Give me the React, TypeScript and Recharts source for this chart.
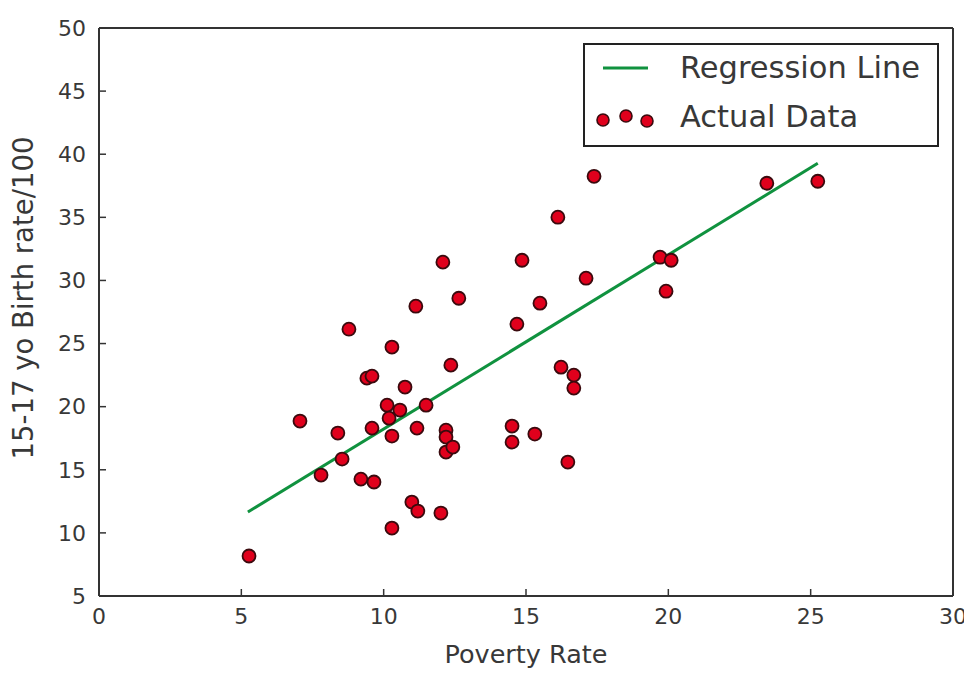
import React from "react";
import {
  ScatterChart,
  Scatter,
  XAxis,
  YAxis,
  Legend,
} from "recharts";

// values
const povertyRate = [
  5.27, 7.06, 7.8, 8.39, 8.54, 8.78, 9.2, 9.41, 9.59, 9.59, 9.66, 10.12, 10.19,
  10.29, 10.29, 10.29, 10.57, 10.75, 10.99, 11.13, 11.17, 11.2, 11.49, 12.01,
  12.08, 12.19, 12.19, 12.19, 12.36, 12.43, 12.64, 14.51, 14.51, 14.68, 14.86,
  15.31, 15.49, 16.12, 16.23, 16.47, 16.68, 16.68, 17.11, 17.39, 19.71, 19.92,
  20.1, 23.46, 25.25,
];
const birthRate = [
  8.17, 18.86, 14.58, 17.91, 15.85, 26.14, 14.26, 22.26, 22.42, 18.3, 14.03,
  20.12, 19.09, 24.72, 17.67, 10.38, 19.73, 21.55, 12.44, 27.96, 18.3, 11.73,
  20.12, 11.57, 31.45, 18.14, 17.59, 16.4, 23.29, 16.8, 28.59, 18.46, 17.19,
  26.54, 31.6, 17.83, 28.2, 35.01, 23.13, 15.61, 22.5, 21.47, 30.18, 38.25,
  31.84, 29.15, 31.6, 37.7, 37.86,
];

// regression line end points
const regX = [5.23, 25.25];
const regY = [11.65, 39.28];

const xTicks = [0, 5, 10, 15, 20, 25, 30];
const yTicks = [5, 10, 15, 20, 25, 30, 35, 40, 45, 50];

const points = povertyRate.map((x, i) => ({ x, y: birthRate[i] }));
const regression = regX.map((x, i) => ({ x, y: regY[i] }));

const FONT = "'DejaVu Sans', sans-serif";
const TEXT = "#383838";
const RED = "#e0001c";
const RED_EDGE = "#3a0a0e";
const GREEN = "#10923f";

const Dot = (props: any) => (
  <circle
    cx={props.cx}
    cy={props.cy}
    r={6.5}
    fill={RED}
    stroke={RED_EDGE}
    strokeWidth={1.8}
  />
);

// rotated y axis title, placed a bit above the plot centre like the reference
const YTitle = () => (
  <text
    x={15}
    y={290}
    transform="rotate(-90, 15, 290)"
    textAnchor="middle"
    dominantBaseline="central"
    fontSize={27.5}
    fill={TEXT}
    fontFamily={FONT}
  >
    15-17 yo Birth rate/100
  </text>
);

// matplotlib style legend box
const LegendBox = () => (
  <div
    style={{
      width: 356,
      height: 104,
      boxSizing: "border-box",
      border: "2px solid #222",
      background: "#fff",
      position: "relative",
      fontFamily: FONT,
      fontSize: 30.5,
      color: TEXT,
    }}
  >
    <svg width={90} height={100} style={{ position: "absolute", left: -2, top: -2 }}>
      <line x1={20} y1={25} x2={65} y2={25} stroke={GREEN} strokeWidth={3} />
      <circle cx={20} cy={77} r={6} fill={RED} stroke={RED_EDGE} strokeWidth={1.6} />
      <circle cx={43} cy={73} r={6} fill={RED} stroke={RED_EDGE} strokeWidth={1.6} />
      <circle cx={64} cy={78} r={6} fill={RED} stroke={RED_EDGE} strokeWidth={1.6} />
    </svg>
    <div style={{ position: "absolute", left: 95, top: 5, lineHeight: "36px" }}>
      Regression Line
    </div>
    <div style={{ position: "absolute", left: 95, top: 54, lineHeight: "36px" }}>
      Actual Data
    </div>
  </div>
);

const axisLine = { stroke: "#333", strokeWidth: 2 };
const tickLine = { stroke: "#333", strokeWidth: 1.5 };
const tickFont = { fontSize: 22, fill: TEXT, fontFamily: FONT };

export default function App() {
  return (
    <ScatterChart
      width={964}
      height={665}
      margin={{ top: 15, right: 14, bottom: 7, left: 0 }}
      style={{ background: "#fff" }}
    >
      {/* inward ticks on all four sides, like the classic matplotlib frame */}
      <XAxis
        type="number"
        dataKey="x"
        domain={[0, 30]}
        ticks={xTicks}
        height={70}
        axisLine={axisLine}
        tickLine={tickLine}
        tickSize={-7}
        tickMargin={19}
        tick={tickFont}
        label={{
          value: "Poverty Rate",
          position: "insideBottom",
          offset: 3,
          style: { fontSize: 25.5, fill: TEXT, fontFamily: FONT },
        }}
      />
      <XAxis
        xAxisId="top"
        orientation="top"
        type="number"
        domain={[0, 30]}
        ticks={xTicks}
        height={5}
        axisLine={axisLine}
        tickLine={tickLine}
        tickSize={-7}
        tick={false}
      />
      <YAxis
        type="number"
        dataKey="y"
        domain={[5, 50]}
        ticks={yTicks}
        width={91}
        axisLine={axisLine}
        tickLine={tickLine}
        tickSize={-7}
        tickMargin={20}
        tick={tickFont}
        label={<YTitle />}
      />
      <YAxis
        yAxisId="right"
        orientation="right"
        type="number"
        domain={[5, 50]}
        ticks={yTicks}
        width={5}
        axisLine={axisLine}
        tickLine={tickLine}
        tickSize={-7}
        tick={false}
      />
      <Legend
        layout="vertical"
        align="center"
        verticalAlign="middle"
        content={<LegendBox />}
        wrapperStyle={{ position: "absolute", left: 575, top: 35, width: 356 }}
      />
      <Scatter
        name="Regression Line"
        data={regression}
        line={{ stroke: GREEN, strokeWidth: 3 }}
        lineType="joint"
        shape={() => <g />}
        isAnimationActive={false}
      />
      <Scatter
        name="Actual Data"
        data={points}
        shape={<Dot />}
        isAnimationActive={false}
      />
    </ScatterChart>
  );
}
